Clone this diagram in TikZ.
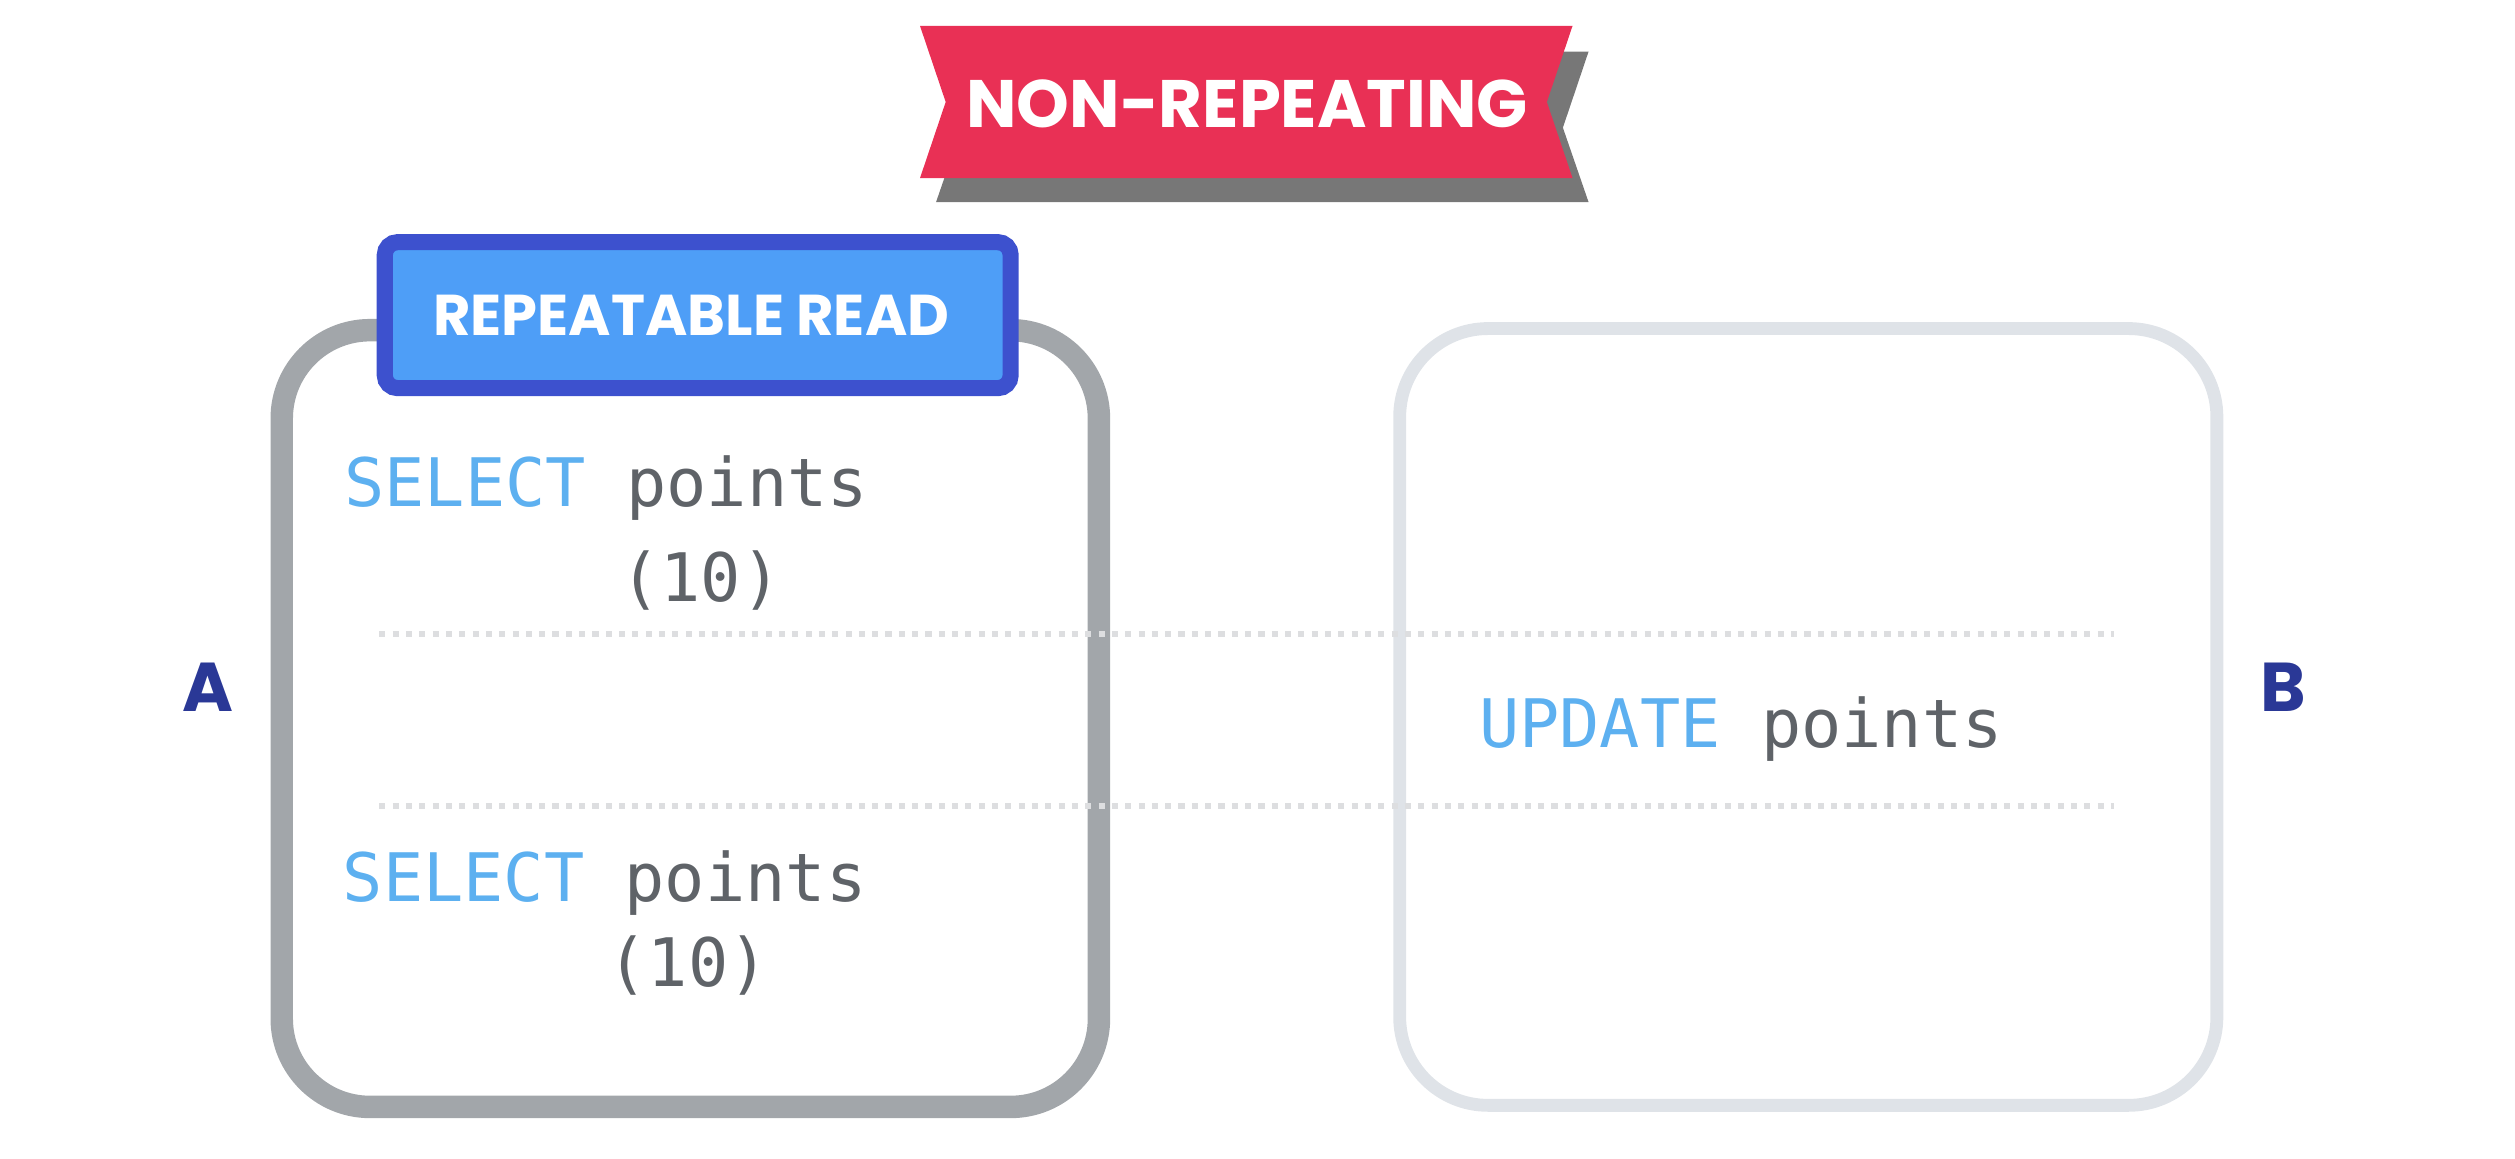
\documentclass[tikz,border=0pt]{standalone}
\usepackage{fontspec}
\newfontfamily\pop{Poppins}
\newfontfamily\mono{DejaVu Sans Mono}
\definecolor{bannerred}{HTML}{E93055}
\definecolor{shadowgray}{HTML}{777777}
\definecolor{boxgray}{HTML}{A2A6AA}
\definecolor{boxlight}{HTML}{DFE3E8}
\definecolor{dotgray}{HTML}{DDDEE0}
\definecolor{rrborder}{HTML}{3D51CE}
\definecolor{rrfill}{HTML}{4E9EF7}
\definecolor{kw}{HTML}{5DB0F0}
\definecolor{ident}{HTML}{5F6368}
\definecolor{labelblue}{HTML}{2A3896}
\tikzset{
  txbox/.style={draw, rounded corners=0.55cm, minimum width=5.092cm, minimum height=4.84cm, inner sep=0pt},
  codetext/.style={inner sep=0pt, text=ident, font=\mono\fontsize{11.86}{14}\selectfont},
  sidelabel/.style={inner sep=0pt, text=labelblue, font=\pop\bfseries\fontsize{12.25}{14}\selectfont},
  sepline/.style={draw=dotgray, line width=0.038cm, dash pattern=on 0.038cm off 0.045cm},
}
\begin{document}
\begin{tikzpicture}[x=0.01cm,y=-0.01cm]
\useasboundingbox (0,0) rectangle (1568,722);
% banner
\fill[shadowgray] (583.6,32.2) -- (990.4,32.2) -- (974.4,79.6) -- (990.4,126) -- (583.6,126) -- (599.6,79.6) -- cycle;
\fill[bannerred] (573.6,16.2) -- (980.4,16.2) -- (964.4,63.6) -- (980.4,111) -- (573.6,111) -- (589.6,63.6) -- cycle;
\node[anchor=base, inner sep=0pt, text=white, font=\pop\bfseries\fontsize{11.9}{14}\selectfont] (banner) at (777.5,79.2) {NON-REPEATING};
% transaction boxes
\node[txbox, draw=boxgray, line width=0.14cm] (boxA) at (430.4,448) {};
\node[txbox, draw=boxlight, line width=0.08cm] (boxB) at (1127.4,447) {};
% repeatable read label
\node[draw=rrborder, fill=rrfill, line width=0.1cm, rounded corners=0.08cm, minimum width=3.9cm, minimum height=0.91cm, inner sep=0pt] (rr) at (435,196.5) {};
\node[anchor=base, inner sep=0pt, text=white, font=\pop\bfseries\fontsize{10.2}{12}\selectfont] (rrtext) at (431,209) {REPEATABLE READ};
% separators
\coordinate (s1a) at (236.5,395.5);
\coordinate (s1b) at (1318,395.5);
\coordinate (s2a) at (236.5,502.5);
\coordinate (s2b) at (1318,502.5);
\draw[sepline] (s1a) -- (s1b);
\draw[sepline] (s2a) -- (s2b);
% code
\node[codetext, anchor=base west] (sel1) at (214,315.5) {\textcolor{kw}{SELECT} points};
\node[codetext, anchor=base] (val1) at (437,375) {(10)};
\node[codetext, anchor=base west] (sel2) at (213,562) {\textcolor{kw}{SELECT} points};
\node[codetext, anchor=base] (val2) at (429,615) {(10)};
\node[codetext, anchor=base west] (upd) at (921.5,466) {\textcolor{kw}{UPDATE} points};
% labels
\node[sidelabel, anchor=base] (labA) at (129.9,443.7) {A};
\node[sidelabel, anchor=base] (labB) at (1423.5,443.7) {B};
\end{tikzpicture}
\end{document}
